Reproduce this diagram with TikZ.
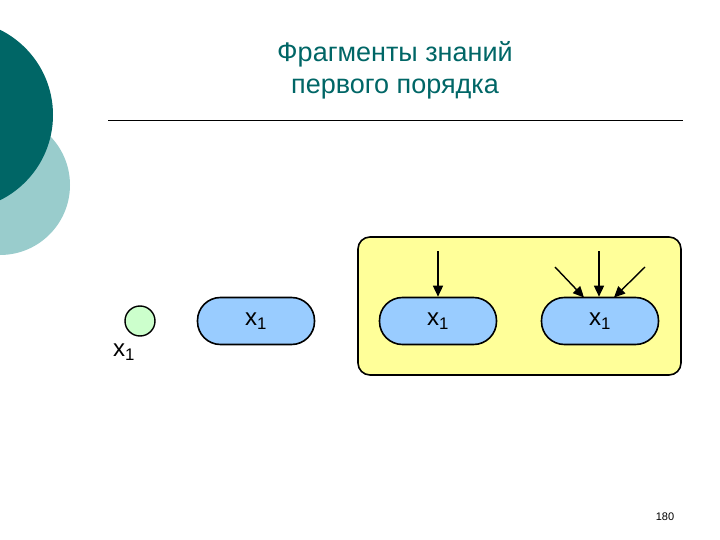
\documentclass[tikz,border=0pt]{standalone}
\usepackage{fontspec}
\setmainfont{Liberation Sans}
\usetikzlibrary{arrows.meta}
\definecolor{teal1}{HTML}{006666}
\definecolor{teal2}{HTML}{99CCCC}
\definecolor{pillc}{HTML}{99CCFF}
\definecolor{boxc}{HTML}{FFFF99}
\definecolor{greenc}{HTML}{CCFFCC}
\tikzset{pill/.style={draw,line width=1.6pt,fill=pillc,rounded corners=23pt,minimum width=117pt,minimum height=47pt,font=\fontsize{24}{28}\selectfont},
arr/.style={-{Triangle[length=11pt,width=10pt]},line width=1.4pt}}
\begin{document}
\begin{tikzpicture}[x=1pt,y=-1pt]
\useasboundingbox (0,0) rectangle (720,540);
\clip (0,0) rectangle (720,540);
\fill[teal2] (0,185) circle (70);
\fill[teal1] (-42,115) circle (95);
\node[text=teal1,font=\fontsize{27}{32}\selectfont,align=center] (title) at (395,70) {Фрагменты знаний\\первого порядка};
\draw[line width=0.6pt] (108,120) -- (683,120);
\node[draw,line width=1.4pt,fill=greenc,circle,minimum size=30pt] (c) at (140,321) {};
\node[font=\fontsize{24}{28}\selectfont] (cl) at (124,352) {x\textsubscript{1}};
\node[pill] (p1) at (256,321) {x\textsubscript{1}};
\node[draw,line width=1.6pt,fill=boxc,rounded corners=12pt,minimum width=323pt,minimum height=138pt] (box) at (519.5,306) {};
\node[pill] (p2) at (438,321) {x\textsubscript{1}};
\node[pill] (p3) at (600,321) {x\textsubscript{1}};
\coordinate (a1) at (438,251);
\coordinate (a2) at (599,251);
\coordinate (a3) at (555,267);
\coordinate (a4) at (645,267);
\draw[arr] (a1) -- (p2.north);
\draw[arr] (a2) -- (p3.north -| a2);
\draw[arr] (a3) -- (584,297.5);
\draw[arr] (a4) -- (614,297.5);
\node[font=\fontsize{11}{13}\selectfont] (pn) at (665,517) {180};
\end{tikzpicture}
\end{document}
